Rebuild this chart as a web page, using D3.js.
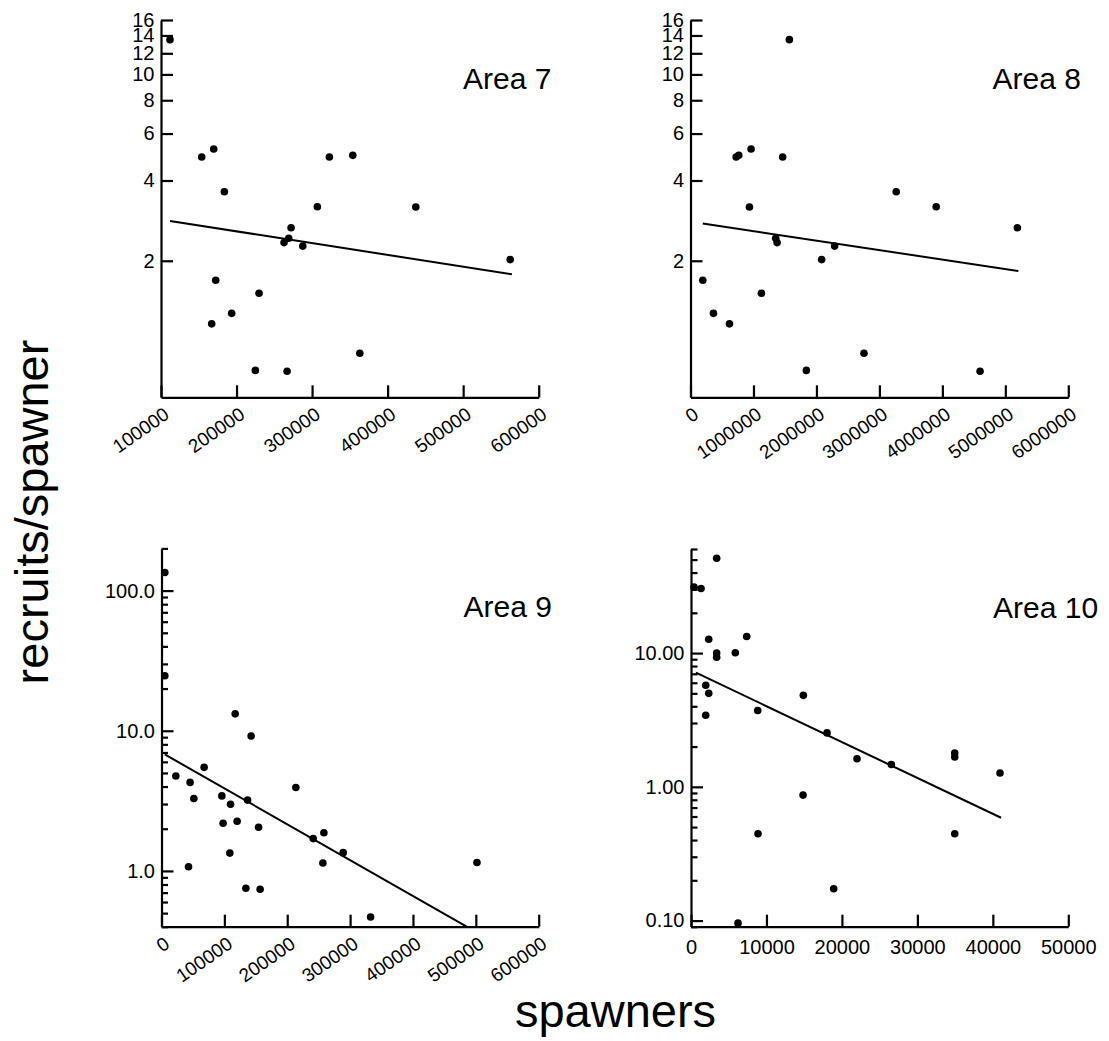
<!DOCTYPE html>
<html>
<head>
<meta charset="utf-8">
<script src="https://cdn.jsdelivr.net/npm/d3@7"></script>
<style>
  html, body { margin: 0; padding: 0; background: #fff; }
  svg { display: block; font-family: "Liberation Sans", Arial, sans-serif; }
</style>
</head>
<body>
<svg id="chart" width="1109" height="1041"></svg>
<script>
// ---- Area 7 ----
const area7Spawners = [111900, 153900, 169800, 183900, 172400, 229800, 193600, 167100, 224900, 266900,
  363200, 262900, 269100, 272200, 287700, 307000, 322900, 353900, 437300, 562300];
const area7RecruitsPerSpawner = [13.5, 4.90, 5.25, 3.63, 1.69, 1.51, 1.27, 1.16, 0.776, 0.77,
  0.90, 2.34, 2.43, 2.66, 2.27, 3.19, 4.90, 4.97, 3.18, 2.02];
const area7FitSpawners = [111900, 564500];
const area7FitRps = [2.82, 1.78];

// ---- Area 8 ----
const area8Spawners = [1570000, 724800, 766000, 962000, 1464000, 936000, 3267000, 3902000, 5191000, 1353000,
  1375000, 2289000, 2083000, 195000, 1126000, 365000, 619000, 1840000, 2755000, 4599000];
const area8RecruitsPerSpawner = [13.5, 4.90, 4.97, 5.25, 4.90, 3.18, 3.63, 3.19, 2.66, 2.43,
  2.34, 2.27, 2.02, 1.69, 1.51, 1.27, 1.16, 0.776, 0.90, 0.77];
const area8FitSpawners = [195000, 5207000];
const area8FitRps = [2.76, 1.83];

// ---- Area 9 ----
const area9Spawners = [5300, 5300, 117200, 142600, 22800, 67800, 45500, 51400, 96000, 109800,
  136900, 98000, 120300, 154400, 213700, 241300, 258300, 289000, 256700, 108700,
  43000, 134200, 156900, 332600, 501800];
const area9RecruitsPerSpawner = [134.5, 24.7, 13.2, 9.17, 4.75, 5.48, 4.28, 3.29, 3.43, 2.99,
  3.20, 2.19, 2.26, 2.05, 3.94, 1.70, 1.87, 1.35, 1.14, 1.34,
  1.07, 0.752, 0.740, 0.469, 1.148];
const area9FitSpawners = [5300, 485400];
const area9FitRps = [6.78, 0.40];

// ---- Area 10 ----
const area10Spawners = [3400, 400, 1330, 2350, 7380, 5870, 3400, 3400, 1950, 2350,
  1950, 8840, 14890, 18030, 22000, 26550, 34950, 34950, 40950, 14850,
  8880, 34950, 18910, 6230];
const area10RecruitsPerSpawner = [51.2, 31.1, 30.4, 12.7, 13.3, 10.05, 10.0, 9.3, 5.74, 5.0,
  3.43, 3.72, 4.83, 2.53, 1.62, 1.47, 1.79, 1.67, 1.27, 0.867,
  0.446, 0.446, 0.173, 0.0957];
const area10FitSpawners = [660, 41090];
const area10FitRps = [7.14, 0.587];

// ---- tick values ----
const xTicksArea7 = [100000, 200000, 300000, 400000, 500000, 600000];
const xTicksArea8 = [0, 1000000, 2000000, 3000000, 4000000, 5000000, 6000000];
const xTicksArea9 = [0, 100000, 200000, 300000, 400000, 500000, 600000];
const xTicksArea10 = [0, 10000, 20000, 30000, 40000, 50000];
const yTicksTop = [2, 4, 6, 8, 10, 12, 14, 16];
const yMajorArea9 = [1, 10, 100];
const yMinorArea9 = [0.4, 0.5, 0.6, 0.7, 0.8, 0.9, 2, 3, 4, 5, 6, 7, 8, 9, 20, 30, 40, 50, 60, 70, 80, 90, 200];
const yMajorArea10 = [0.1, 1, 10];
const yMinorArea10 = [0.09, 0.2, 0.3, 0.4, 0.5, 0.6, 0.7, 0.8, 0.9, 2, 3, 4, 5, 6, 7, 8, 9, 20, 30, 40, 50, 60];

const svg = d3.select("#chart");
svg.append("rect").attr("width", 1109).attr("height", 1041).attr("fill", "#fff");

const panels = [
  { title: "Area 7", xs: area7Spawners, ys: area7RecruitsPerSpawner, fx: area7FitSpawners, fy: area7FitRps,
    xDomain: [100000, 600000], xRange: [161, 538.7], yDomain: [0.615, 16], yRange: [397.3, 20], yBase: 2,
    xTicks: xTicksArea7, rotate: true, yMajor: yTicksTop, yMinor: [], yFmt: d3.format("d") },
  { title: "Area 8", xs: area8Spawners, ys: area8RecruitsPerSpawner, fx: area8FitSpawners, fy: area8FitRps,
    xDomain: [0, 6000000], xRange: [690.5, 1068.3], yDomain: [0.615, 16], yRange: [397.3, 20], yBase: 2,
    xTicks: xTicksArea8, rotate: true, yMajor: yTicksTop, yMinor: [], yFmt: d3.format("d") },
  { title: "Area 9", xs: area9Spawners, ys: area9RecruitsPerSpawner, fx: area9FitSpawners, fy: area9FitRps,
    xDomain: [0, 600000], xRange: [161.5, 538.7], yDomain: [0.4, 200], yRange: [926.7, 548.4], yBase: 10,
    xTicks: xTicksArea9, rotate: true, yMajor: yMajorArea9, yMinor: yMinorArea9, yFmt: d3.format(".1f") },
  { title: "Area 10", xs: area10Spawners, ys: area10RecruitsPerSpawner, fx: area10FitSpawners, fy: area10FitRps,
    xDomain: [0, 50000], xRange: [691, 1068.3], yDomain: [0.09, 60], yRange: [926.7, 549], yBase: 10,
    xTicks: xTicksArea10, rotate: false, yMajor: yMajorArea10, yMinor: yMinorArea10, yFmt: d3.format(".2f") }
];

panels.forEach(p => {
  const x = d3.scaleLinear().domain(p.xDomain).range(p.xRange);
  const y = d3.scaleLog().base(p.yBase).domain(p.yDomain).range(p.yRange);
  const x0 = p.xRange[0], yBottom = p.yRange[0];
  const g = svg.append("g");

  // x axis, ticks pointing into the plot
  const xa = g.append("g").attr("transform", `translate(0,${yBottom})`)
    .call(d3.axisBottom(x).tickValues(p.xTicks).tickFormat(d3.format("d"))
      .tickSizeInner(-12).tickSizeOuter(0).tickPadding(13));
  if (p.rotate) {
    xa.selectAll(".tick text")
      .attr("x", 0).attr("y", 0).attr("dy", null)
      .attr("transform", "translate(9,20) rotate(-35)")
      .style("text-anchor", "end")
      .style("font-size", "19px");
  } else {
    xa.selectAll(".tick text").style("font-size", "20px");
  }

  // y axis: minor ticks then major ticks with labels
  if (p.yMinor.length) {
    g.append("g").attr("transform", `translate(${x0},0)`)
      .call(d3.axisLeft(y).tickValues(p.yMinor).tickFormat("").tickSizeInner(-6.5).tickSizeOuter(0))
      .call(a => a.select(".domain").remove());
  }
  const ya = g.append("g").attr("transform", `translate(${x0},0)`)
    .call(d3.axisLeft(y).tickValues(p.yMajor).tickFormat(p.yFmt)
      .tickSizeInner(-12).tickSizeOuter(0).tickPadding(6.5));
  ya.selectAll(".tick text").style("font-size", "20px");

  g.selectAll(".domain, .tick line").attr("stroke", "#000").attr("stroke-width", 2.2);
  g.selectAll(".tick text").attr("fill", "#000").style("font-family", "'Liberation Sans', Arial, sans-serif");

  // fitted line
  const line = d3.line().x(d => x(d[0])).y(d => y(d[1]));
  g.append("path").datum(d3.zip(p.fx, p.fy)).attr("d", line)
    .attr("fill", "none").attr("stroke", "#000").attr("stroke-width", 2);

  // observations
  g.append("g").selectAll("circle").data(d3.zip(p.xs, p.ys)).join("circle")
    .attr("cx", d => x(d[0])).attr("cy", d => y(d[1])).attr("r", 3.8).attr("fill", "#000");

  // panel title
  g.append("text").attr("x", x0 + 302).attr("y", p.yRange[1] + 68.5)
    .style("font-size", "30px").attr("fill", "#000").text(p.title);
});

// shared axis titles
svg.append("text").attr("x", 615.5).attr("y", 1027).attr("text-anchor", "middle")
  .style("font-size", "47px").attr("fill", "#000").text("spawners");
svg.append("text").attr("transform", "translate(48,512) rotate(-90)").attr("text-anchor", "middle")
  .style("font-size", "47px").attr("fill", "#000").text("recruits/spawner");
</script>
</body>
</html>
